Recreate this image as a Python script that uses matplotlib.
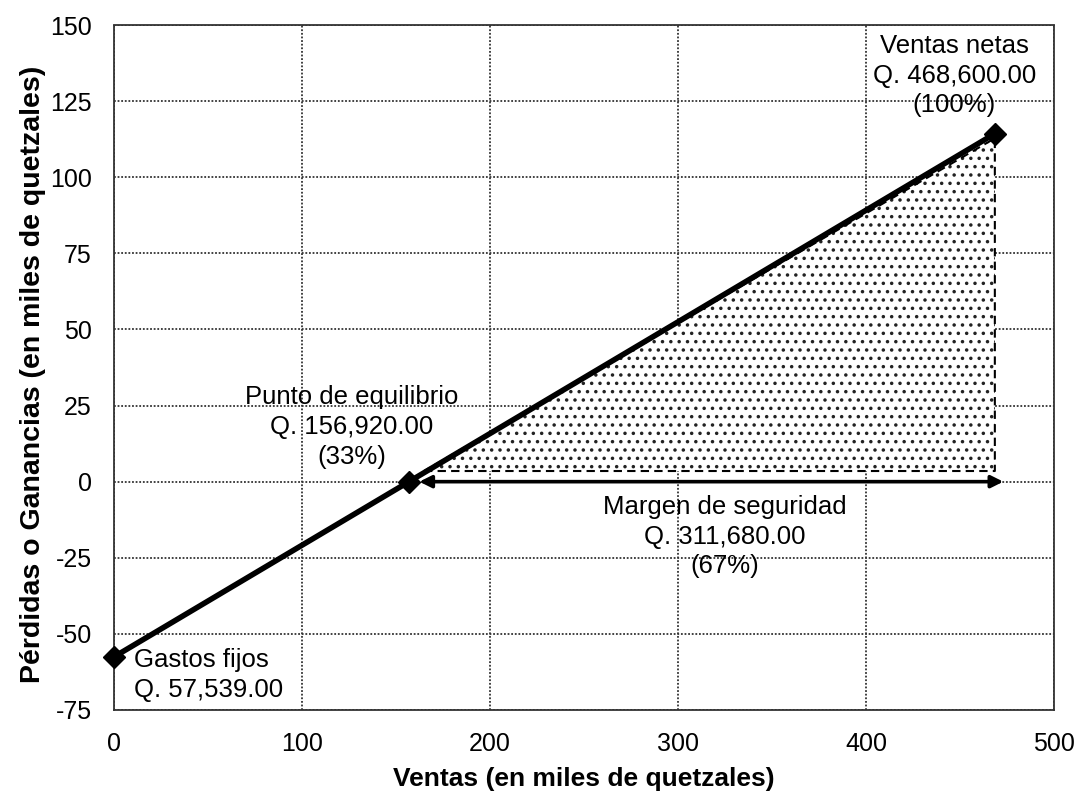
import numpy as np
import matplotlib.pyplot as plt

plt.rcParams['font.family'] = ['Liberation Sans', 'DejaVu Sans']
plt.rcParams['axes.unicode_minus'] = False
plt.rcParams['hatch.linewidth'] = 1.3

# datos (miles de quetzales)
ventas = [0.0, 156.92, 468.6]
resultado = [-57.539, 0.0, 114.3]
xticks = [0, 100, 200, 300, 400, 500]
yticks = [-75, -50, -25, 0, 25, 50, 75, 100, 125, 150]

etiq_eq = "Punto de equilibrio\nQ. 156,920.00\n(33%)"
etiq_vn = "Ventas netas\nQ. 468,600.00\n(100%)"
etiq_ms = "Margen de seguridad\nQ. 311,680.00\n(67%)"
etiq_gf = "Gastos fijos\nQ. 57,539.00"

fig = plt.figure(figsize=(10.82, 7.94), dpi=100)
ax = fig.add_axes([0.1054, 0.1058, 0.8686, 0.8627])

# triangulo del margen de seguridad
desf = 3.5
tri_x = [ventas[1] + 8, ventas[2], ventas[2], ventas[1] + 8]
tri_y = [desf, desf, resultado[2] - 1.5, desf]
ax.fill(tri_x, tri_y, facecolor='white', edgecolor='#222222', hatch='..',
        linewidth=0, zorder=2)
ax.plot(tri_x, tri_y, color='black', ls=(0, (4, 2.5)), lw=1.5, zorder=3)

# flecha del margen
ax.annotate('', xy=(ventas[2] + 6, 0), xytext=(ventas[1] + 4, 0),
            arrowprops=dict(arrowstyle='<|-|>', color='black', lw=2.6,
                            mutation_scale=18), zorder=4)

ax.plot(ventas, resultado, color='black', lw=4, marker='D', ms=11,
        zorder=5, clip_on=False)

fs = 18.5
ls = 1.3
ax.text(126.5, 4.2, etiq_eq, ha='center', va='bottom', fontsize=fs, linespacing=ls)
ax.text(447, 119.7, etiq_vn, ha='center', va='bottom', fontsize=fs, linespacing=ls)
ax.text(325, -4.4, etiq_ms, ha='center', va='top', fontsize=fs, linespacing=ls)
ax.text(10.6, -54.7, etiq_gf, ha='left', va='top', fontsize=fs, linespacing=ls)

ax.set_xlim(0, 500)
ax.set_ylim(-75, 150)
ax.set_xticks(xticks)
ax.set_yticks(yticks)
ax.tick_params(axis='y', length=0, labelsize=18, pad=16)
ax.tick_params(axis='x', length=0, labelsize=18, pad=16)
ax.grid(True, color='#333333', ls=(0, (1, 1)), lw=1.3)
ax.set_axisbelow(True)
for s in ax.spines.values():
    s.set_linestyle((0, (1, 1)))
    s.set_color('#333333')
    s.set_linewidth(1.3)

ax.set_xlabel('Ventas (en miles de quetzales)', fontsize=19, fontweight='bold')
ax.set_ylabel('Pérdidas o Ganancias (en miles de quetzales)', fontsize=20.5,
              fontweight='bold')
ax.xaxis.set_label_coords(0.5, -0.083)
ax.yaxis.set_label_coords(-0.072, 0.49)

fig.savefig('out.png', dpi=100)
